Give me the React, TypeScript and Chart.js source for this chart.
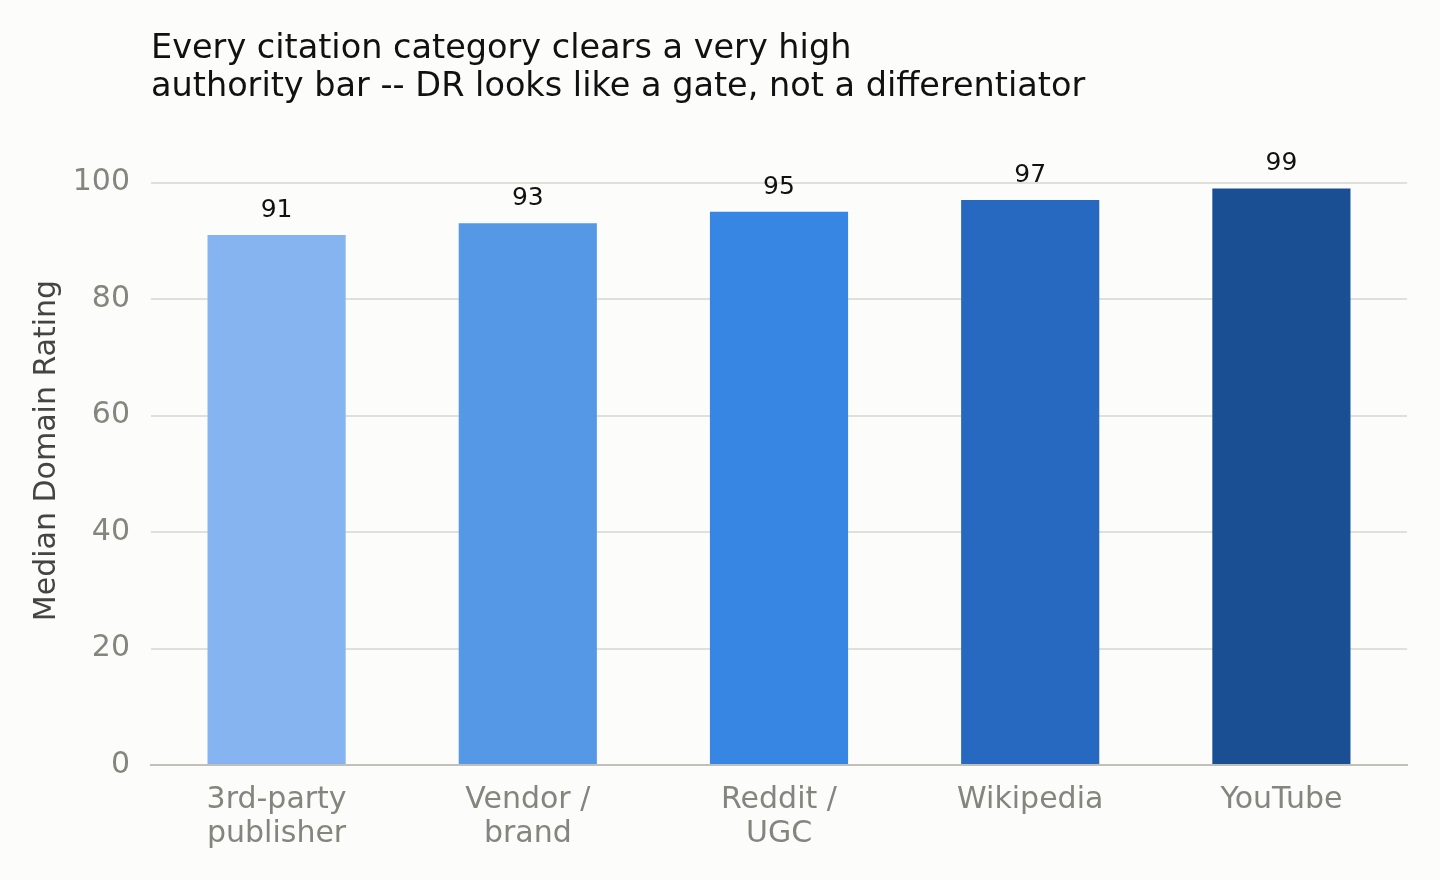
import { useEffect, useRef } from 'react';
import { Chart, registerables } from 'chart.js';

Chart.register(...registerables);

const categories = [['3rd-party', 'publisher'], ['Vendor /', 'brand'], ['Reddit /', 'UGC'], ['Wikipedia'], ['YouTube']];
const medianDR = [91, 93, 95, 97, 99];
const barColors = ['#85b4f0', '#5498e6', '#3886e3', '#2769c0', '#1a4f93'];
const yTicks = [0, 20, 40, 60, 80, 100];
const titleLines = [
  'Every citation category clears a very high',
  'authority bar -- DR looks like a gate, not a differentiator'
];

const FONT = '"DejaVu Sans", sans-serif';

const decor = {
  id: 'decor',
  beforeDraw(chart: Chart) {
    const c = chart.ctx;
    c.save();
    c.fillStyle = '#fcfcfa';
    c.fillRect(0, 0, chart.width, chart.height);
    c.restore();
  },
  afterDatasetsDraw(chart: Chart) {
    const c = chart.ctx;
    const meta = chart.getDatasetMeta(0);
    c.save();
    c.fillStyle = '#111';
    c.font = `25px ${FONT}`;
    c.textAlign = 'center';
    c.textBaseline = 'bottom';
    meta.data.forEach((bar, i) => {
      c.fillText(String(medianDR[i]), bar.x, bar.y - 12);
    });
    // title
    c.font = `33.5px ${FONT}`;
    c.textAlign = 'left';
    c.textBaseline = 'middle';
    titleLines.forEach((t, i) => c.fillText(t, chart.chartArea.left, 49 + i * 38));
    c.restore();
  }
};

function DRChart() {
  const ref = useRef<HTMLCanvasElement | null>(null);
  const chartRef = useRef<Chart | null>(null);

  useEffect(() => {
    document.body.style.margin = '0';
    document.body.style.background = '#fcfcfa';
    if (!ref.current) return;
    chartRef.current?.destroy();
    chartRef.current = new Chart(ref.current, {
      type: 'bar',
      data: {
        labels: categories,
        datasets: [
          {
            data: medianDR,
            backgroundColor: barColors,
            barPercentage: 0.55,
            categoryPercentage: 1
          }
        ]
      },
      options: {
        responsive: false,
        animation: false,
        layout: { padding: { top: 136, right: 33, left: 0, bottom: 0 } },
        plugins: { legend: { display: false }, tooltip: { enabled: false } },
        scales: {
          x: {
            grid: { display: false },
            border: { display: true, color: '#c0c0b8', width: 2 },
            ticks: {
              color: '#85857e',
              font: { family: FONT, size: 30, lineHeight: 1.13 },
              padding: 10,
              maxRotation: 0
            },
            afterFit: (s: { height: number }) => {
              s.height = 115;
            }
          },
          y: {
            min: 0,
            max: 108,
            grid: {
              color: (ctx: { tick?: { value: number } }) => (ctx.tick && ctx.tick.value === 0 ? 'rgba(0,0,0,0)' : '#e0e0da'),
              lineWidth: 2,
              drawTicks: false
            },
            border: { display: false },
            afterBuildTicks: (s: { ticks: { value: number }[] }) => {
              s.ticks = yTicks.map((v) => ({ value: v }));
            },
            ticks: { color: '#85857e', font: { family: FONT, size: 30 }, padding: 21 },
            title: {
              display: true,
              text: 'Median Domain Rating',
              color: '#444',
              font: { family: FONT, size: 30 },
              padding: { top: 29, bottom: 0 }
            },
            afterFit: (s: { width: number }) => {
              s.width = 151;
            }
          }
        }
      },
      plugins: [decor]
    });
    return () => chartRef.current?.destroy();
  }, []);

  return <canvas ref={ref} width={1440} height={880} style={{ display: 'block', width: 1440, height: 880 }} />;
}

export default function App() {
  return <DRChart />;
}
